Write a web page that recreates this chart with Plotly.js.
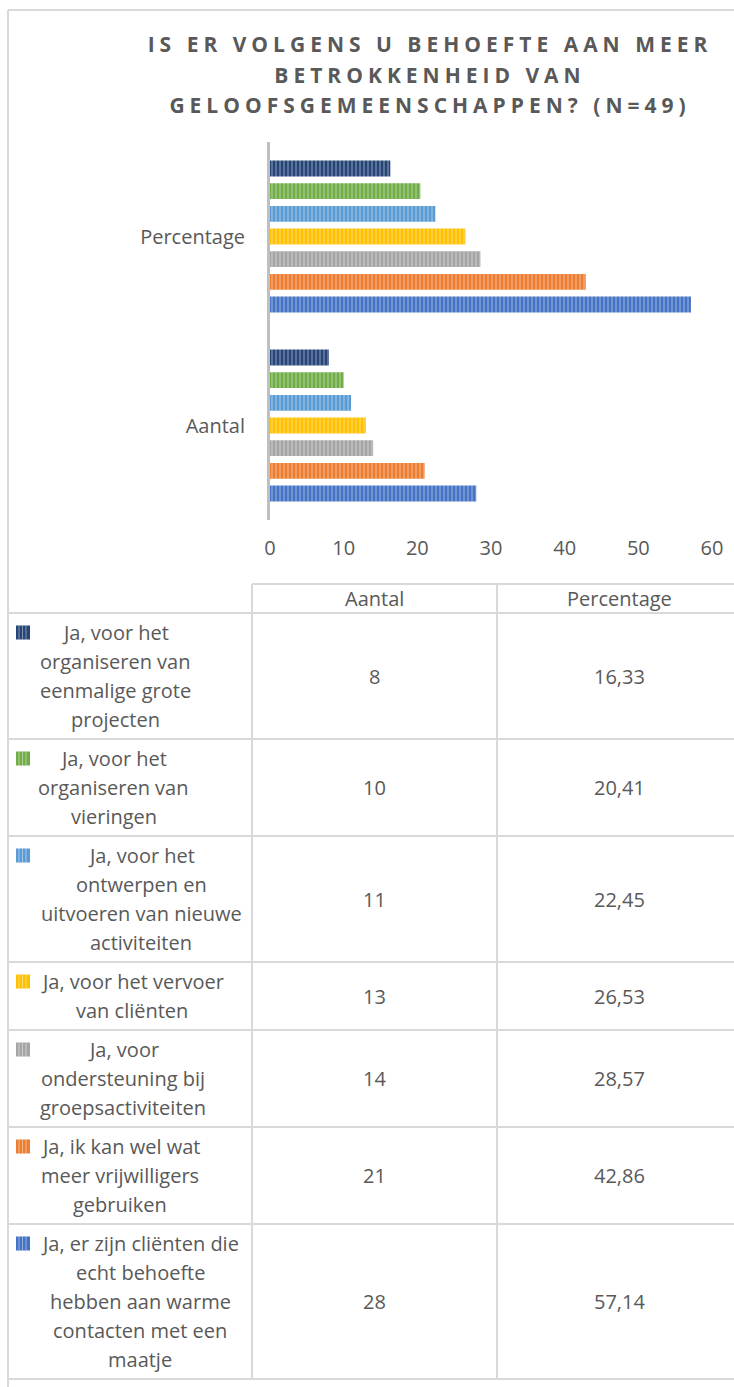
<!DOCTYPE html>
<html>
<head>
<meta charset="utf-8">
<script src="https://cdn.plot.ly/plotly-3.0.1.min.js"></script>
<style>
  html, body { margin: 0; padding: 0; background: #fff; }
  #chart { width: 734px; height: 1387px; }
  .gtitle { letter-spacing: 5px; }
</style>
</head>
<body>
<div id="chart"></div>
<script>
// ---------- DATA ----------
const categories = ['Aantal', 'Percentage'];
const tableHeaders = ['Aantal', 'Percentage'];
const seriesLabelLines = [
  ['Ja, voor het', 'organiseren van', 'eenmalige grote', 'projecten'],
  ['Ja, voor het', 'organiseren van', 'vieringen'],
  ['Ja, voor het', 'ontwerpen en', 'uitvoeren van nieuwe', 'activiteiten'],
  ['Ja, voor het vervoer', 'van cliënten'],
  ['Ja, voor', 'ondersteuning bij', 'groepsactiviteiten'],
  ['Ja, ik kan wel wat', 'meer vrijwilligers', 'gebruiken'],
  ['Ja, er zijn cliënten die', 'echt behoefte', 'hebben aan warme', 'contacten met een', 'maatje']
];
const aantalValues = [8, 10, 11, 13, 14, 21, 28];
const percentageValues = [16.33, 20.41, 22.45, 26.53, 28.57, 42.86, 57.14];
const chartTitle = 'IS ER VOLGENS U BEHOEFTE AAN MEER<br>BETROKKENHEID VAN<br>GELOOFSGEMEENSCHAPPEN? (N=49)';

// ---------- STYLE ----------
const seriesColors = ['#264478', '#70AD47', '#5B9BD5', '#FFC000', '#A5A5A5', '#ED7D31', '#4472C4'];
const FONT = 'Open Sans, Lato, sans-serif';
const TXT = '#595959';
const GRID = '#d9d9d9';
const W = 734, H = 1387;
const px = x => x / W;
const py = y => 1 - y / H;

// ---------- TRACES ----------
const traces = [];
for (let i = seriesLabelLines.length - 1; i >= 0; i--) {
  traces.push({
    type: 'bar',
    orientation: 'h',
    name: seriesLabelLines[i].join(' '),
    y: categories,
    x: [aantalValues[i], percentageValues[i]],
    marker: {
      color: seriesColors[i],
      line: { width: 0 },
      pattern: { shape: '|', fillmode: 'overlay', fgcolor: '#ffffff', fgopacity: 0.4, size: 4, solidity: 0.3 }
    },
    hoverinfo: 'x+name'
  });
}

// ---------- TABLE (shapes + annotations) ----------
const tableShapes = [];
const tableAnnotations = [];
function addLine(x0, y0, x1, y1) {
  tableShapes.push({
    type: 'line', xref: 'paper', yref: 'paper',
    x0: px(x0), y0: py(y0), x1: px(x1), y1: py(y1),
    line: { color: GRID, width: 2 }
  });
}
function addText(t, x, y) {
  tableAnnotations.push({
    text: t, xref: 'paper', yref: 'paper', x: px(x), y: py(y),
    xanchor: 'center', yanchor: 'middle', showarrow: false,
    font: { family: FONT, size: 20, color: TXT }
  });
}

const tLeft = 8, c1 = 252, c2 = 497, tRight = 742;
const headTop = 584, headBottom = 613, lineH = 29, pad = 5;
const labelCenters = [115, 114, 141, 132, 123, 120, 140];

// outer chart border
addLine(tLeft, 10, tLeft, H);
addLine(tLeft, 10, W, 10);

// header
addLine(c1, headTop, W, headTop);
addLine(tLeft, headBottom, W, headBottom);
addText(tableHeaders[0], (c1 + c2) / 2, (headTop + headBottom) / 2);
addText(tableHeaders[1], (c2 + tRight) / 2, (headTop + headBottom) / 2);

let rowTop = headBottom;
seriesLabelLines.forEach((lines, i) => {
  const h = lines.length * lineH + 2 * pad;
  const rowBottom = rowTop + h;
  lines.forEach((ln, k) => addText(ln, labelCenters[i], rowTop + pad + lineH / 2 + k * lineH));
  addText(String(aantalValues[i]), (c1 + c2) / 2, rowTop + h / 2);
  addText(percentageValues[i].toFixed(2).replace('.', ','), (c2 + tRight) / 2, rowTop + h / 2);
  // legend swatch
  const cy = rowTop + pad + lineH / 2;
  tableShapes.push({
    type: 'rect', xref: 'paper', yref: 'paper',
    x0: px(16), x1: px(30), y0: py(cy - 7), y1: py(cy + 7),
    fillcolor: seriesColors[i], line: { width: 0 }
  });
  [19, 22.5, 26].forEach(sx => tableShapes.push({
    type: 'line', xref: 'paper', yref: 'paper',
    x0: px(sx), x1: px(sx), y0: py(cy - 7), y1: py(cy + 7),
    line: { color: 'rgba(255,255,255,0.45)', width: 1 }
  }));
  addLine(tLeft, rowBottom, W, rowBottom);
  rowTop = rowBottom;
});
addLine(c1, headTop, c1, rowTop);
addLine(c2, headTop, c2, rowTop);

// ---------- LAYOUT ----------
const layout = {
  width: W, height: H,
  margin: { l: 0, r: 0, t: 0, b: 0 },
  paper_bgcolor: '#ffffff', plot_bgcolor: '#ffffff',
  showlegend: false,
  barmode: 'group',
  bargap: 0.16,
  bargroupgap: 0.3,
  title: {
    text: chartTitle,
    font: { family: FONT, size: 21, weight: 'bold', color: TXT },
    xref: 'container', x: 430 / W, xanchor: 'center',
    yref: 'container', y: 1 - 52 / H, yanchor: 'top'
  },
  xaxis: {
    domain: [270 / W, 712 / W],
    range: [0, 60], dtick: 10,
    showgrid: false, zeroline: false, showline: false, ticks: '',
    ticklabelstandoff: 14,
    tickfont: { family: FONT, size: 20, color: TXT },
    fixedrange: true
  },
  yaxis: {
    domain: [1 - 520 / H, 1 - 142 / H],
    type: 'category',
    showgrid: false, zeroline: false,
    showline: true, linecolor: '#bfbfbf', linewidth: 3,
    ticks: '', ticklabelstandoff: 18,
    tickfont: { family: FONT, size: 20, color: TXT },
    fixedrange: true
  },
  shapes: tableShapes,
  annotations: tableAnnotations
};

Plotly.newPlot('chart', traces, layout, { displayModeBar: false, staticPlot: true }).then(gd => {
  gd.querySelectorAll('.gtitle tspan.line').forEach((t, i) => {
    t.setAttribute('dy', (i * 1.46) + 'em');
  });
});
</script>
</body>
</html>
